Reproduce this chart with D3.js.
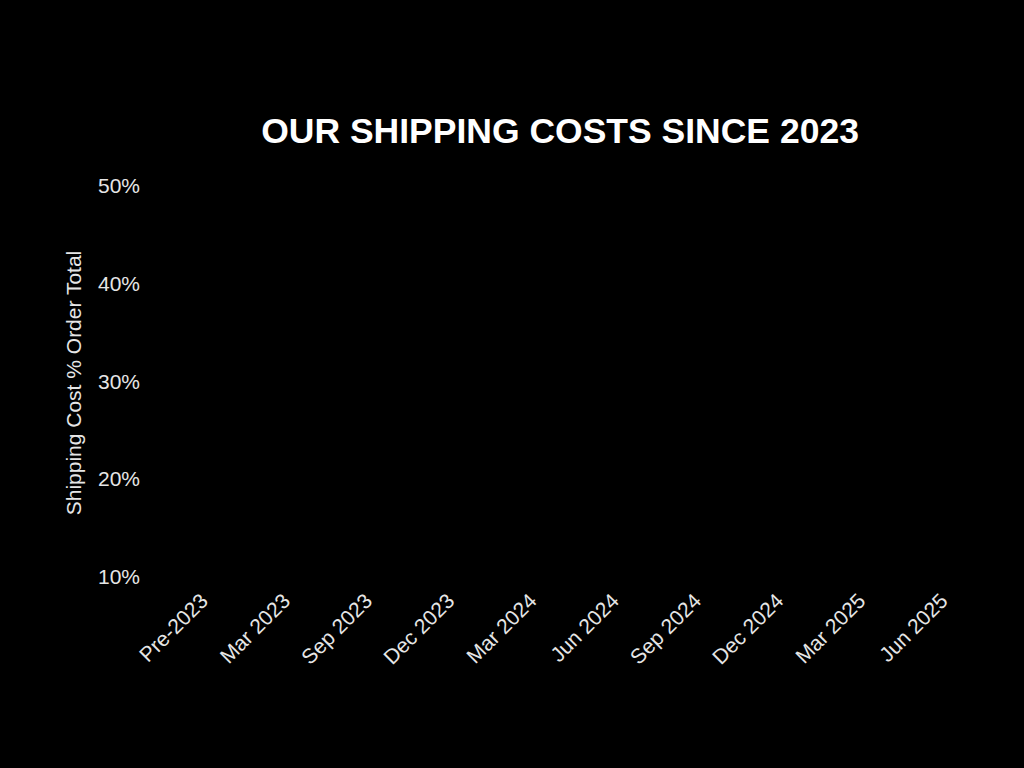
<!DOCTYPE html>
<html>
<head>
<meta charset="utf-8">
<script src="https://cdn.jsdelivr.net/npm/d3@7"></script>
<style>
  html, body { margin:0; padding:0; background:#000; }
  svg { display:block; }
</style>
</head>
<body>
<svg id="drawing_region"></svg>
<script>
// categories along the x axis
const periods = ["Pre-2023", "Mar 2023", "Sep 2023", "Dec 2023", "Mar 2024",
                 "Jun 2024", "Sep 2024", "Dec 2024", "Mar 2025", "Jun 2025"];
// y ticks (percent)
const yTicks = [10, 20, 30, 40, 50];
// no series is visible in the reference, the plot area is empty
const shippingPct = [];

const width = 1024, height = 768;
const font = "'Liberation Sans', Arial, Helvetica, sans-serif";

const svg = d3.select('#drawing_region')
    .attr('width', width)
    .attr('height', height);

svg.append('rect')
    .attr('width', width).attr('height', height)
    .attr('fill', '#000');

const xscale = d3.scalePoint()
    .domain(periods)
    .range([140, 995])
    .padding(0.7);

const yscale = d3.scaleLinear()
    .domain([10, 50])
    .range([577, 186]);

// title
svg.append('text')
    .attr('x', 560)
    .attr('y', 143)
    .attr('text-anchor', 'middle')
    .attr('font-family', font)
    .attr('font-size', '35.5px')
    .attr('font-weight', 'bold')
    .attr('fill', '#fff')
    .text('OUR SHIPPING COSTS SINCE 2023');

// y axis
const yaxis = d3.axisLeft(yscale)
    .tickValues(yTicks)
    .tickFormat(d => d + '%')
    .tickSize(0)
    .tickPadding(0);

const yg = svg.append('g')
    .attr('transform', 'translate(140,0)')
    .call(yaxis);
yg.select('.domain').remove();
yg.selectAll('text')
    .attr('font-family', font)
    .attr('font-size', '21px')
    .attr('fill', '#e6e6e6');

// x axis
const xaxis = d3.axisBottom(xscale)
    .tickSize(0)
    .tickPadding(0);

const xg = svg.append('g')
    .attr('transform', 'translate(0,591)')
    .call(xaxis);
xg.select('.domain').remove();
xg.selectAll('text')
    .attr('font-family', font)
    .attr('font-size', '21px')
    .attr('fill', '#e6e6e6')
    .attr('text-anchor', 'end')
    .attr('dy', '0.75em')
    .attr('transform', 'rotate(-45)');

// y label
svg.append('text')
    .attr('transform', 'translate(81,383) rotate(-90)')
    .attr('text-anchor', 'middle')
    .attr('font-family', font)
    .attr('font-size', '21px')
    .attr('fill', '#e6e6e6')
    .text('Shipping Cost % Order Total');

// series (empty in reference)
const line = d3.line()
    .x((d, i) => xscale(periods[i]))
    .y(d => yscale(d));
svg.append('path')
    .datum(shippingPct)
    .attr('fill', 'none')
    .attr('stroke', '#fff')
    .attr('d', shippingPct.length ? line(shippingPct) : null);
</script>
</body>
</html>
